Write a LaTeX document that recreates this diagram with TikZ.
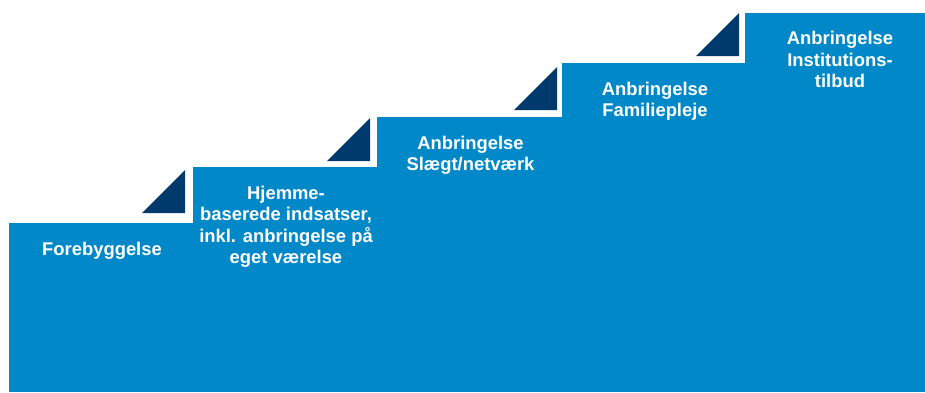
\documentclass[tikz,border=0pt]{standalone}
\usepackage{fontspec}
\setmainfont{Liberation Sans}
\definecolor{stepblue}{HTML}{0088C8}
\definecolor{stepnavy}{HTML}{00396B}
\tikzset{
  steptext/.style={anchor=north, text=white, align=center, inner sep=0pt,
    font=\bfseries\fontsize{18.4}{21.6}\selectfont}
}

\begin{document}
\begin{tikzpicture}[x=1pt,y=-1pt]
        \useasboundingbox (0,0) rectangle (925,392);
        % the five steps
        \foreach \l/\r/\t in {9/193/223, 193/377/167, 377/562/117, 562/745/63, 745/935/12.5}
        \fill[stepblue] (\l,\t) rectangle (\r,392);
        % dark corner triangles
        \foreach \r/\b in {185/213, 370/161, 557/110, 739/56}
        \fill[stepnavy] (\r-43,\b) -- (\r,\b) -- (\r,\b-43) -- cycle;
        % labels
        \node[steptext] (forebyggelse) at (102,241.5) {Forebyggelse};
        \node[steptext] (hjemme) at (286,185.5) {Hjemme-\\baserede indsatser,\\inkl. anbringelse på\\eget værelse};
        \node[steptext] (slaegt) at (470.5,135.5) {Anbringelse\\Slægt/netværk};
        \node[steptext] (familie) at (655,81.5) {Anbringelse\\Familiepleje};
        \node[steptext] (institution) at (840,31) {Anbringelse\\Institutions-\\tilbud};
      \end{tikzpicture}
\end{document}
